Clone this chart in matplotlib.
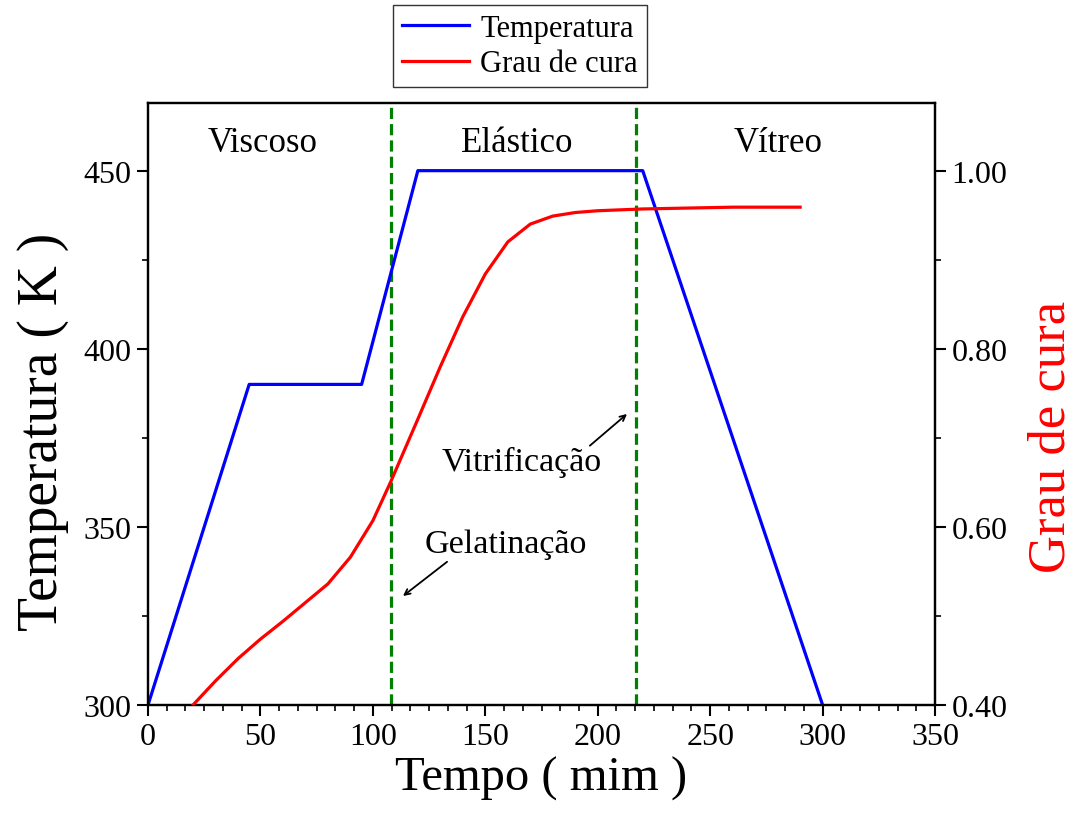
import matplotlib
matplotlib.use("Agg")
import matplotlib.pyplot as plt
from matplotlib.ticker import MultipleLocator, FormatStrFormatter

plt.rcParams['font.family'] = ['Liberation Serif', 'DejaVu Serif']

# temperature cycle (min, K)
tempo_temp = [0, 45, 95, 120, 220, 300]
temperatura = [300, 390, 390, 450, 450, 300]

# degree of cure (min, -)
tempo_cura = [20, 30, 40, 50, 60, 70, 80, 90, 100, 108, 120, 130, 140, 150,
              160, 170, 180, 190, 200, 220, 240, 260, 290]
grau_cura = [0.400, 0.427, 0.452, 0.474, 0.494, 0.515, 0.536, 0.566, 0.607,
             0.651, 0.721, 0.780, 0.836, 0.884, 0.920, 0.940, 0.949, 0.953,
             0.955, 0.957, 0.958, 0.959, 0.959]

# gelation / vitrification times
t_gel = 108
t_vit = 217

regioes = ["Viscoso", "Elástico", "Vítreo"]
regioes_x = [51, 164, 280]

fig = plt.figure(figsize=(10.81, 8.2), dpi=100)
ax = fig.add_axes([0.1369, 0.139, 0.865 - 0.1369, 0.8732 - 0.139])
ax2 = ax.twinx()

T_MIN, T_MAX = 300, 469
ax.set_xlim(0, 350)
ax.set_ylim(T_MIN, T_MAX)
# right axis tied to the left one: 300 K <-> 0.40, 450 K <-> 1.00
ax2.set_ylim(0.4 + 0.004 * (T_MIN - 300), 0.4 + 0.004 * (T_MAX - 300))

l1, = ax.plot(tempo_temp, temperatura, color='#0000ff', lw=2.3, zorder=3)
l2, = ax2.plot(tempo_cura, grau_cura, color='#ff0000', lw=2.3, zorder=3)

for t in (t_gel, t_vit):
    ax.axvline(t, color='#008000', lw=2.3, ls=(0, (3.5, 1.6)), zorder=2)

for nome, xr in zip(regioes, regioes_x):
    ax.text(xr, 458, nome, ha='center', va='center', fontsize=25)

seta = dict(arrowstyle='->', color='black', lw=1.3, shrinkA=0, shrinkB=0)
ax.annotate("", xy=(113.4, 330.6), xytext=(133, 340.2), arrowprops=seta)
ax.text(159, 345.2, "Gelatinação", fontsize=24.5, ha='center', va='center')
ax.annotate("", xy=(213, 381.7), xytext=(196.5, 372.8), arrowprops=seta)
ax.text(166, 368.3, "Vitrificação", fontsize=24.5, ha='center', va='center')

ax.set_xlabel("Tempo ( mim )", fontsize=35, labelpad=4)
ax.set_ylabel("Temperatura ( K )", fontsize=40)
ax.yaxis.set_label_coords(-0.10, 0.455)
ax2.set_ylabel("Grau de cura", fontsize=38, color='#ff0000')
ax2.yaxis.set_label_coords(1.118, 0.447)

ax.xaxis.set_major_locator(MultipleLocator(50))
ax.xaxis.set_minor_locator(MultipleLocator(50 / 6))
ax.yaxis.set_major_locator(MultipleLocator(50))
ax.yaxis.set_minor_locator(MultipleLocator(25))
ax2.yaxis.set_major_locator(MultipleLocator(0.2))
ax2.yaxis.set_minor_locator(MultipleLocator(0.1))
ax2.yaxis.set_major_formatter(FormatStrFormatter('%.2f'))

for a in (ax, ax2):
    a.tick_params(which='major', direction='out', length=8, width=1.5,
                  labelsize=23, pad=4)
    a.tick_params(which='minor', direction='out', length=4, width=1.2)
    for s in a.spines.values():
        s.set_linewidth(1.6)
ax.tick_params(axis='y', which='both', right=False)
ax.tick_params(axis='x', which='both', top=False)

leg = fig.legend([l1, l2], ["Temperatura", "Grau de cura"],
                 loc='upper left', bbox_to_anchor=(393 / 1081, 1 - 6 / 820),
                 fontsize=22, frameon=True, fancybox=False, handlelength=2.2,
                 borderpad=0.3, labelspacing=0.2, handletextpad=0.35,
                 borderaxespad=0)
leg.get_frame().set_edgecolor('black')
leg.get_frame().set_linewidth(1.0)

fig.savefig("out.png", dpi=100)
